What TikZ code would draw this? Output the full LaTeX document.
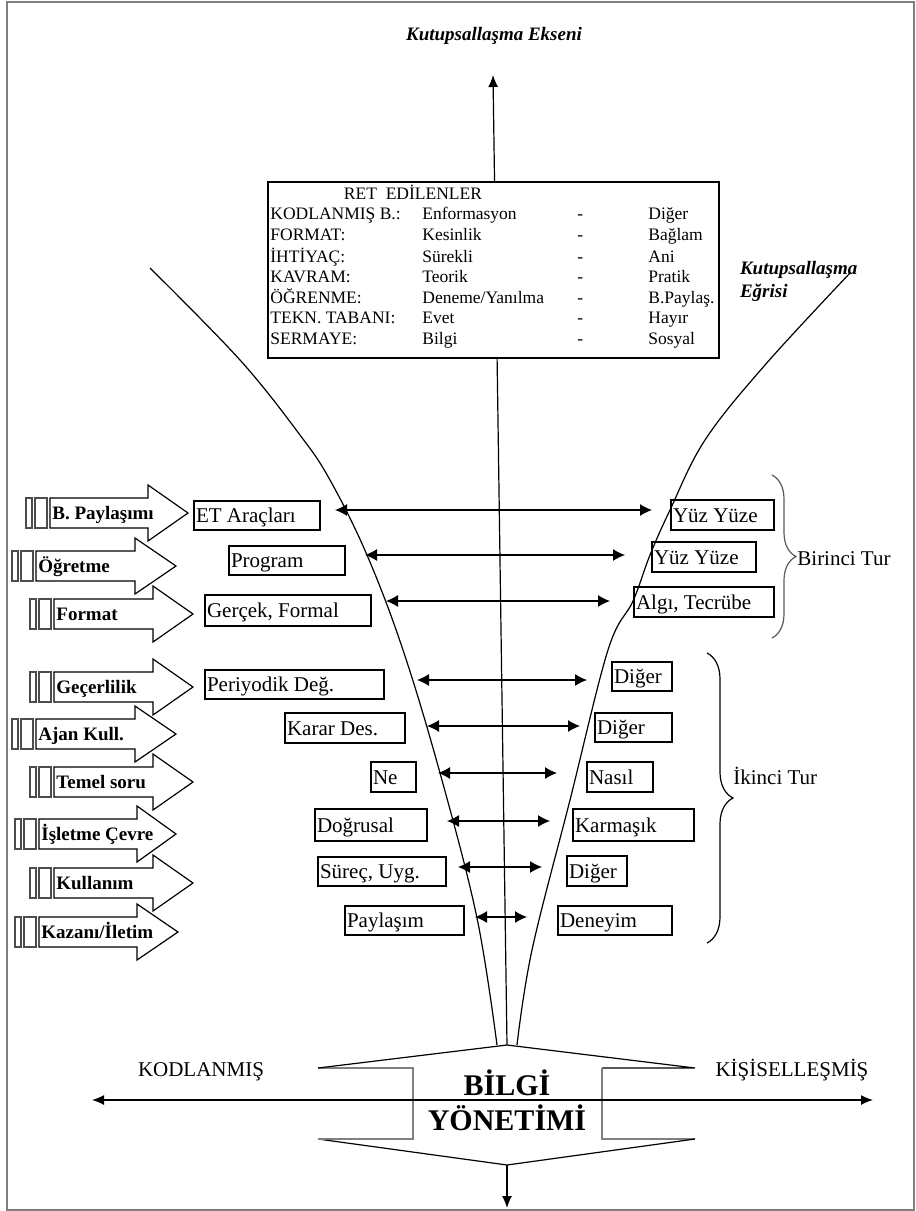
\documentclass[tikz,border=0pt]{standalone}
\usepackage{fontspec}
\setmainfont{Liberation Serif}
\usetikzlibrary{arrows.meta,decorations.pathreplacing,fit}
\newcommand\lbox[6]{%
  \node[box,fit={(#2,#3) (#4,#5)}] (#1) {};
  \node[lbl,anchor=base west,inner sep=1.2pt] (#1t) at ([yshift=-3.6pt]#1.west) {#6};}
\newcommand\barrow[6]{%
  \draw[blk,gray!60!black,fill=white] (#2,#3-15) rectangle (#2+6,#3+15);
  \draw[blk,gray!60!black,fill=white] (#2+9,#3-15) rectangle (#2+21,#3+15);
  \draw[blk,fill=white] (#2+24,#3-15) -- (#4,#3-15) -- (#4,#3-28) -- (#5,#3)
     -- (#4,#3+28) -- (#4,#3+15) -- (#2+24,#3+15) -- cycle;
  \node[blab] (#1) at (#2+24,#3+6.5) {#6};}
\begin{document}
\begin{tikzpicture}[x=0.5pt,y=-0.5pt,
  lbl/.style={font=\fontsize{10.5}{12}\selectfont},
  box/.style={draw,line width=0.75pt,inner sep=0pt},
  dbl/.style={line width=0.6pt,{Latex[length=6pt,width=6pt]}-{Latex[length=6pt,width=6pt]}},
  curve/.style={line width=0.6pt},
  blk/.style={line width=0.6pt},
  blab/.style={font=\fontsize{9.5}{11}\bfseries\selectfont,anchor=base west,inner sep=1pt},
  rett/.style={font=\fontsize{8.75}{10}\selectfont,anchor=base west,inner sep=0pt},
  kut/.style={font=\fontsize{9.5}{11.5}\bfseries\itshape\selectfont}
]
\useasboundingbox (0,0) rectangle (916,1211);
\draw[gray,line width=0.8pt] (7,2) rectangle (914,1210);

% polarisation axis
\coordinate (cbot) at (507,1045);
\coordinate (ctop) at (493,75);
\draw[line width=0.6pt,-{Latex[length=6pt,width=5pt]}] (cbot) -- (ctop);
\node[kut] (title) at (494,36) {Kutupsallaşma Ekseni};

% curves
\draw[curve] plot[smooth,tension=0.6] coordinates {(150,268) (240,360) (300,435) (330,480) (367,555) (403,650) (440,773) (477,918) (497,1045)};
\draw[curve] plot[smooth,tension=0.6] coordinates {(850,273) (765,365) (705,440) (670,510) (650,555) (633,601) (608,650) (570,800) (532,950) (517,1045)};
\node[kut,align=left,anchor=west] (egri) at (733,281) {Kutupsallaşma\\Eğrisi};

% RET box
\node[draw,fill=white,line width=0.75pt,inner sep=0pt,fit={(268,182) (719,358)}] (ret) {};
\node[rett,anchor=base] (rettitle) at (413,199) {RET\ \ EDİLENLER};
\foreach \y/\a/\b/\c [count=\i] in {213/KODLANMIŞ B.:/Enformasyon/Diğer,
  234/FORMAT:/Kesinlik/Bağlam, 256/İHTİYAÇ:/Sürekli/Ani,
  276/KAVRAM:/Teorik/Pratik, 297/ÖĞRENME:/Deneme\slash Yanılma/B.Paylaş.,
  317/TEKN. TABANI:/Evet/Hayır, 338/SERMAYE:/Bilgi/Sosyal}{
  \node[rett] (ra\i) at (270,\y+6) {\a};
  \node[rett] (rb\i) at (422,\y+6) {\b};
  \node[rett] (rc\i) at (577,\y+6) {-};
  \node[rett] (rd\i) at (648,\y+6) {\c};
}

% left boxes
\lbox{L1}{194}{501}{320}{530}{ET Araçları}
\lbox{L2}{229}{546}{345}{575}{Program}
\lbox{L3}{205}{595}{371}{626}{Gerçek, Formal}
\lbox{L4}{205}{670}{384}{699}{Periyodik Değ.}
\lbox{L5}{285}{713}{405}{743}{Karar Des.}
\lbox{L6}{371}{762}{416}{792}{Ne}
\lbox{L7}{315}{809}{427}{841}{Doğrusal}
\lbox{L8}{318}{857}{446}{886}{Süreç, Uyg.}
\lbox{L9}{345}{906}{464}{935}{Paylaşım}
% right boxes
\lbox{R1}{671}{500}{774}{530}{Yüz Yüze}
\lbox{R2}{652}{542}{756}{572}{Yüz Yüze}
\lbox{R3}{634}{587}{774}{617}{Algı, Tecrübe}
\lbox{R4}{612}{662}{672}{691}{Diğer}
\lbox{R5}{595}{713}{672}{742}{Diğer}
\lbox{R6}{587}{762}{653}{792}{Nasıl}
\lbox{R7}{573}{809}{694}{841}{Karmaşık}
\lbox{R8}{567}{856}{627}{886}{Diğer}
\lbox{R9}{558}{906}{672}{935}{Deneyim}

% double arrows
\foreach \i/\l/\r/\y in {1/335/652/510, 2/365/625/555, 3/386/610/601,
  4/417/587/680, 5/427/580/726, 6/438/557/773, 7/447/550/821,
  8/458/542/867, 9/475/527/917}{
  \coordinate (a\i l) at (\l,\y);
  \coordinate (a\i r) at (\r,\y);
  \draw[dbl] (a\i l) -- (a\i r);
}

% block arrows
\barrow{B1}{26}{513}{148}{188}{B. Paylaşımı}
\barrow{B2}{12}{566}{135}{176}{Öğretme}
\barrow{B3}{30}{614}{153}{193}{Format}
\barrow{B4}{30}{687}{153}{193}{Geçerlilik}
\barrow{B5}{12}{734}{135}{176}{Ajan Kull.}
\barrow{B6}{30}{782}{153}{193}{Temel soru}
\barrow{B7}{15}{834}{137}{176}{İşletme Çevre}
\barrow{B8}{30}{883}{153}{193}{Kullanım}
\barrow{B9}{15}{932}{137}{178}{Kazanı/İletim}

% braces
\draw[decorate,decoration={brace,amplitude=12pt},line width=0.6pt,gray!70!black] (772,475) -- (772,638);
\node[lbl,anchor=base west,inner sep=0pt] (tur1) at (797,565) {Birinci Tur};
\draw[decorate,decoration={brace,amplitude=13pt},line width=0.6pt] (707,653) -- (707,943);
\node[lbl,anchor=base west,inner sep=0pt] (tur2) at (733,784) {İkinci Tur};

% bottom shape
\coordinate (stop) at (507,1045);
\coordinate (sbot) at (507,1165);
\draw[line width=0.6pt] (stop) -- (695,1068) -- (602,1068);
\draw[line width=0.6pt,gray] (602,1068) -- (602,1139) -- (695,1139);
\draw[line width=0.6pt] (695,1139) -- (sbot) -- (318,1139);
\draw[line width=0.6pt,gray] (318,1139) -- (413,1139) -- (413,1068) -- (318,1068);
\draw[line width=0.6pt] (318,1068) -- (stop);
\coordinate (hl) at (92,1100);
\coordinate (hr) at (873,1100);
\draw[line width=0.6pt,{Latex[length=6pt,width=5pt]}-{Latex[length=6pt,width=5pt]}] (hl) -- (hr);
\coordinate (bend) at (507,1208);
\draw[line width=0.6pt,-{Latex[length=6pt,width=5pt]}] (sbot) -- (bend);
\node[font=\fontsize{15}{17.5}\bfseries\selectfont,align=center] (bilgi) at (507,1100) {BİLGİ\\YÖNETİMİ};
\node[lbl,anchor=base] (kod) at (201,1076) {KODLANMIŞ};
\node[lbl,anchor=base] (kis) at (792,1076) {KİŞİSELLEŞMİŞ};
\end{tikzpicture}
\end{document}
